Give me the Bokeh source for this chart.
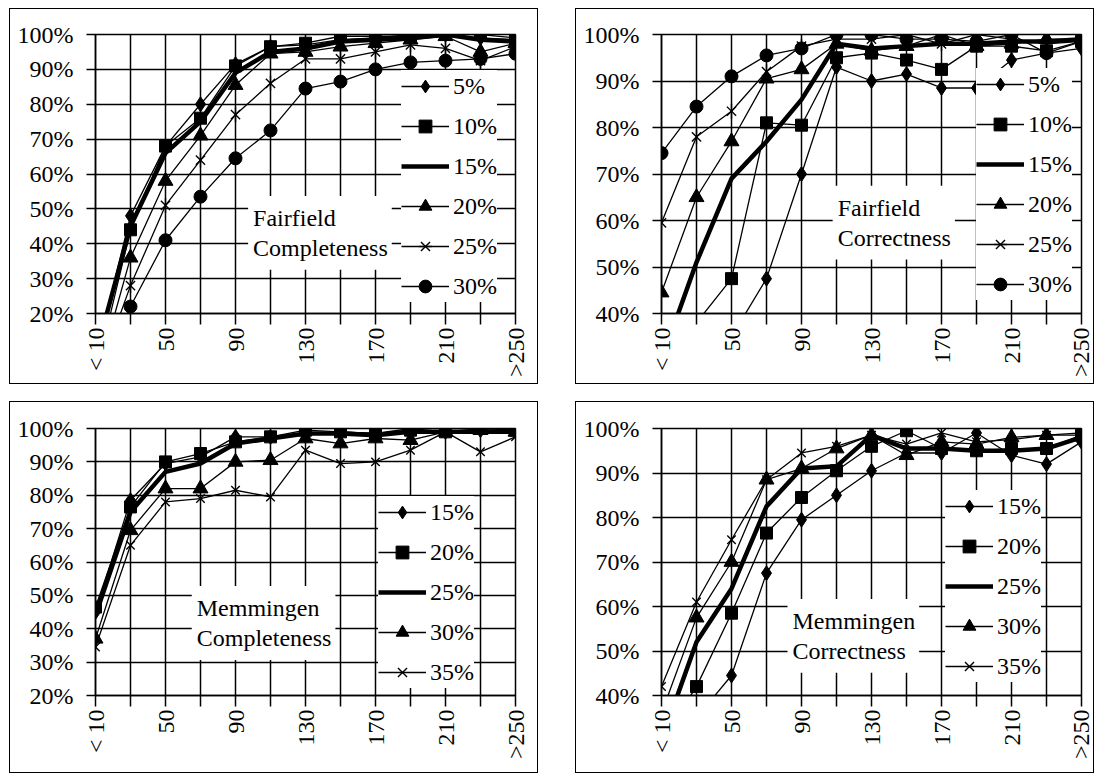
import math
from bokeh.plotting import figure
from bokeh.layouts import column, row
from bokeh.models import (Range1d, FixedTicker, PrintfTickFormatter, Legend, LegendItem, Label)
from bokeh.embed import file_html
from bokeh.resources import INLINE

# ---------------- data ----------------
categories = ["< 10", "30", "50", "70", "90", "110", "130", "150", "170", "190", "210", "230", ">250"]
labelled_categories = ["< 10", "50", "90", "130", "170", "210", ">250"]

ff_names = ["5%", "10%", "15%", "20%", "25%", "30%"]
mm_names = ["15%", "20%", "25%", "30%", "35%"]

# Fairfield completeness
ff_comp_5 = [7, 48, 68, 80, 91.5, 96.5, 97, 98.5, 99, 100, 100, 99, 98.5]
ff_comp_10 = [2, 44, 68, 76, 91, 96.5, 97.5, 99.5, 99.5, 99.5, 100, 100, 99]
ff_comp_15 = [8, 45, 66, 75, 89, 95, 96, 98, 98.5, 99, 100, 98.5, 98]
ff_comp_20 = [0, 36, 58, 71, 85.5, 94.5, 95, 96.5, 97.5, 98.5, 99.5, 95, 97.5]
ff_comp_25 = [0, 28, 51, 64, 77, 86, 93, 93, 95, 97, 96, 92.5, 96.5]
ff_comp_30 = [0, 22, 41, 53.5, 64.5, 72.5, 84.5, 86.5, 90, 92, 92.5, 93, 94.5]

# Fairfield correctness
ff_corr_5 = [20, 28, 35, 47.5, 70, 93, 90, 91.5, 88.5, 88.5, 94.5, 96, 97]
ff_corr_10 = [25, 38, 47.5, 81, 80.5, 95, 96, 94.5, 92.5, 97.5, 97.5, 96.5, 98.5]
ff_corr_15 = [30, 51, 69, 77, 86, 98, 97, 97.5, 98, 98, 98.5, 98.5, 99]
ff_corr_20 = [44.5, 65, 77, 90.5, 92.5, 98, 96.5, 97.5, 100, 97.5, 98, 99, 99]
ff_corr_25 = [59.5, 78, 83.5, 92, 97.5, 99, 99, 100, 98, 100, 99, 98, 98.5]
ff_corr_30 = [74.5, 84.5, 91, 95.5, 97, 100, 100, 99, 99, 98.5, 100, 96, 98.5]

# Memmingen completeness
mm_comp_15 = [45, 78.5, 89.5, 91.5, 97.5, 97.5, 98, 99, 98.5, 100, 99, 99.5, 99.5]
mm_comp_20 = [46.5, 76.5, 90, 92.5, 96, 97.5, 99.5, 99, 98.5, 99.5, 99, 100, 99.5]
mm_comp_25 = [44, 75, 87, 89.5, 95.5, 97, 98.5, 98.5, 98, 99, 99, 99, 99]
mm_comp_30 = [37, 69.5, 82, 82, 90, 90.5, 97, 95.5, 97, 96.5, 99, 99.5, 99]
mm_comp_35 = [34.5, 65, 78, 79, 81.5, 79.5, 93.5, 89.5, 90, 93.5, 99, 93, 97.5]

# Memmingen correctness
mm_corr_15 = [25, 35, 44.5, 67.5, 79.5, 85, 90.5, 94.5, 94.5, 99, 94, 92, 97]
mm_corr_20 = [30, 42, 58.5, 76.5, 84.5, 90.5, 96, 99.5, 95.5, 95, 95.5, 95.5, 98.5]
mm_corr_25 = [30, 52, 64, 82.5, 91, 91.5, 98.5, 95.5, 95.5, 95, 95, 95.5, 98]
mm_corr_30 = [36, 57.5, 70, 88.5, 91, 95.5, 98.5, 94, 97, 96.5, 98, 98.5, 98.5]
mm_corr_35 = [42, 61, 75, 88.5, 94.5, 96, 98.5, 96.5, 99, 97, 97.5, 98.5, 99]

# ---------------- styles ----------------
FONT = "Liberation Serif"
ff_markers = ["diamond", "square", None, "triangle", "star", "circle"]
mm_markers = ["diamond", "square", None, "triangle", "x"]
MARKER_SIZE = {"diamond": 15, "square": 12, "triangle": 15, "circle": 13, "x": 12, "star": 13}


def make_panel(width, height, borders, ymin, names, series, markers, text, text_xy,
               legend_loc, legend_pad):
    left, right, top, bottom = borders
    xs = list(range(len(categories)))
    p = figure(width=width, height=height,
               x_range=Range1d(0, len(categories) - 1), y_range=Range1d(ymin, 100),
               output_backend="svg", toolbar_location=None, tools="",
               min_border_left=left, min_border_right=right,
               min_border_top=top, min_border_bottom=bottom,
               styles={"outline": "1.6px solid black"})
    p.background_fill_color = "white"
    p.border_fill_color = "white"
    p.outline_line_color = "black"
    p.outline_line_width = 1.5

    # x axis
    major = [i for i, c in enumerate(categories) if c in labelled_categories]
    minor = [i for i, c in enumerate(categories) if c not in labelled_categories]
    p.xaxis.ticker = FixedTicker(ticks=major, minor_ticks=minor)
    p.xaxis.major_label_overrides = {i: categories[i] for i in major}
    p.xaxis.major_label_orientation = math.pi / 2
    p.xaxis.major_label_text_font = FONT
    p.xaxis.major_label_text_font_size = "24px"
    p.xaxis.major_label_text_color = "black"
    p.xaxis.major_label_standoff = 3
    p.xaxis.major_tick_out = 11
    p.xaxis.major_tick_in = 0
    p.xaxis.minor_tick_out = 11
    p.xaxis.minor_tick_in = 0
    p.xaxis.minor_tick_line_color = "black"
    p.xaxis.minor_tick_line_width = 1.5
    p.xgrid.minor_grid_line_color = "black"
    p.xgrid.minor_grid_line_width = 1.5

    # y axis
    p.yaxis.ticker = FixedTicker(ticks=list(range(ymin, 101, 10)))
    p.yaxis.formatter = PrintfTickFormatter(format="%d%%")
    p.yaxis.major_label_text_font = FONT
    p.yaxis.major_label_text_font_size = "24px"
    p.yaxis.major_label_text_color = "black"
    p.yaxis.major_label_standoff = 13
    p.yaxis.major_tick_out = 9
    p.yaxis.major_tick_in = 0
    p.yaxis.minor_tick_line_color = None

    for ax in (p.xaxis[0], p.yaxis[0]):
        ax.axis_line_color = "black"
        ax.axis_line_width = 1.5
        ax.major_tick_line_color = "black"
        ax.major_tick_line_width = 1.5

    for g in (p.xgrid[0], p.ygrid[0]):
        g.grid_line_color = "black"
        g.grid_line_width = 1.5

    items = []
    for name, vals, mk in zip(names, series, markers):
        rends = []
        if mk is None:
            rends.append(p.line(xs, vals, line_color="black", line_width=4.5))
        else:
            rends.append(p.line(xs, vals, line_color="black", line_width=1.3))
            if mk == "star":
                rends.append(p.scatter(xs, vals, marker="x", size=MARKER_SIZE[mk],
                                       line_color="black", line_width=1.4))
                rends.append(p.scatter(xs, vals, marker="dash", angle=math.pi / 2,
                                       size=MARKER_SIZE[mk] + 2,
                                       line_color="black", line_width=1.4))
            elif mk == "x":
                rends.append(p.scatter(xs, vals, marker="x", size=MARKER_SIZE[mk],
                                       line_color="black", line_width=1.4))
            else:
                rends.append(p.scatter(xs, vals, marker=mk, size=MARKER_SIZE[mk],
                                       fill_color="black", line_color="black"))
        items.append(LegendItem(label=name, renderers=rends))

    legend = Legend(items=items, location=legend_loc)
    legend.label_text_font = FONT
    legend.label_text_font_size = "24px"
    legend.label_text_color = "black"
    legend.glyph_width = 48
    legend.glyph_height = 32
    legend.label_height = 20
    legend.label_standoff = 4
    legend.spacing = 8
    legend.padding = legend_pad
    legend.margin = 0
    legend.border_line_color = None
    legend.background_fill_color = "white"
    legend.background_fill_alpha = 1.0
    p.add_layout(legend)

    lab = Label(x=text_xy[0], y=text_xy[1], x_units="data", y_units="data", text=text,
                text_font=FONT, text_font_size="24px", text_color="black",
                text_align="left", text_baseline="top", text_line_height=1.15,
                background_fill_color="white", background_fill_alpha=1.0,
                padding=dict(left=5, right=4, top=9, bottom=9))
    p.add_layout(lab)
    return p


W1, W2 = 527, 517
H1, H2 = 374, 370

p1 = make_panel(W1, H1, (85, 22, 25, 70), 20, ff_names,
                [ff_comp_5, ff_comp_10, ff_comp_15, ff_comp_20, ff_comp_25, ff_comp_30],
                ff_markers, "Fairfield\nCompleteness", (4.36, 53.7), (306, 11), 8)
p2 = make_panel(W2, H1, (85, 12, 25, 70), 40, ff_names,
                [ff_corr_5, ff_corr_10, ff_corr_15, ff_corr_20, ff_corr_25, ff_corr_30],
                ff_markers, "Fairfield\nCorrectness", (4.89, 67.5), (315, 13), 3)
p3 = make_panel(W1, H2, (85, 22, 26, 77), 20, mm_names,
                [mm_comp_15, mm_comp_20, mm_comp_25, mm_comp_30, mm_comp_35],
                mm_markers, "Memmingen\nCompleteness", (2.75, 52.8), (283, 7), 5)
p4 = make_panel(W2, H2, (85, 12, 26, 77), 40, mm_names,
                [mm_corr_15, mm_corr_20, mm_corr_25, mm_corr_30, mm_corr_35],
                mm_markers, "Memmingen\nCorrectness", (3.60, 61.7), (284, 13), 5)

layout = column(row(p1, p2, spacing=39), row(p3, p4, spacing=39), spacing=19,
                margin=(9, 0, 0, 10))

open("out.html", "w").write(file_html(layout, INLINE))
